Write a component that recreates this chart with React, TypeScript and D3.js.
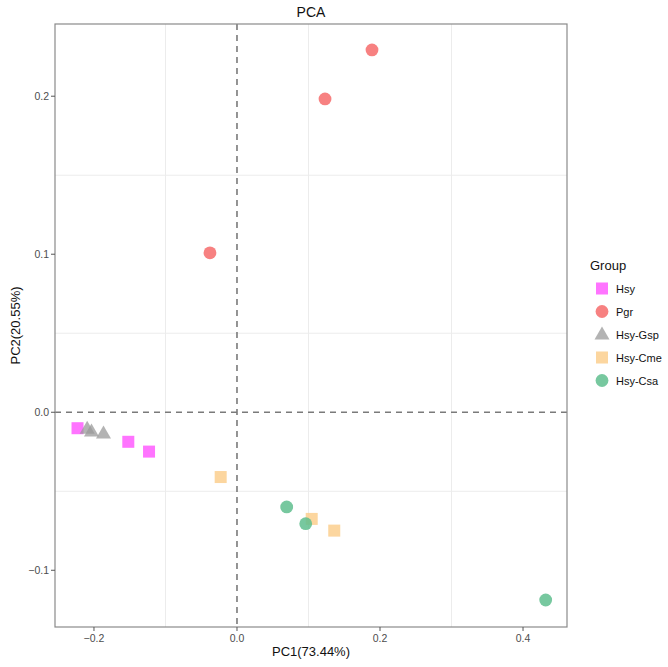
import React from "react";
import * as d3 from "d3";

const groups = ["Hsy", "Pgr", "Hsy-Gsp", "Hsy-Cme", "Hsy-Csa"];
const groupColors = ["#FF5CFF", "#F66B6B", "#9A9A9A", "#FBCF8E", "#5FBE8E"];
const groupShapes = ["square", "circle", "triangle", "square", "circle"];

const hsyPC1 = [-0.223, -0.152, -0.123];
const hsyPC2 = [-0.0101, -0.0187, -0.0249];
const pgrPC1 = [0.1888, 0.1231, -0.0378];
const pgrPC2 = [0.2293, 0.1983, 0.1009];
const gspPC1 = [-0.2095, -0.2035, -0.1867];
const gspPC2 = [-0.0105, -0.0122, -0.0135];
const cmePC1 = [-0.0228, 0.1045, 0.136];
const cmePC2 = [-0.041, -0.0675, -0.0749];
const csaPC1 = [0.0695, 0.0961, 0.4317];
const csaPC2 = [-0.0599, -0.0705, -0.1188];

const xTicks = [-0.2, 0.0, 0.2, 0.4];
const yTicks = [-0.1, 0.0, 0.1, 0.2];
const xMinor = [-0.1, 0.1, 0.3];
const yMinor = [-0.05, 0.05, 0.15];

const xLabel = "PC1(73.44%)";
const yLabel = "PC2(20.55%)";
const title = "PCA";
const legendTitle = "Group";

const series = [
  { x: hsyPC1, y: hsyPC2 },
  { x: pgrPC1, y: pgrPC2 },
  { x: gspPC1, y: gspPC2 },
  { x: cmePC1, y: cmePC2 },
  { x: csaPC1, y: csaPC2 },
];

function Marker({ shape, cx, cy, color }: { shape: string; cx: number; cy: number; color: string }) {
  const op = 0.85;
  if (shape === "square") {
    const s = 12;
    return <rect x={cx - s / 2} y={cy - s / 2} width={s} height={s} fill={color} fillOpacity={op} />;
  }
  if (shape === "circle") {
    return <circle cx={cx} cy={cy} r={6.4} fill={color} fillOpacity={op} />;
  }
  const w = 15, h = 13;
  const pts = `${cx},${cy - h * 0.62} ${cx - w / 2},${cy + h * 0.38} ${cx + w / 2},${cy + h * 0.38}`;
  return <polygon points={pts} fill={color} fillOpacity={0.75} />;
}

export default function App() {
  const W = 668, H = 667;
  const left = 55, right = 567, top = 24, bottom = 627;
  const x = d3.scaleLinear().domain([-0.2545, 0.4615]).range([left, right]);
  const y = d3.scaleLinear().domain([-0.1359, 0.2457]).range([bottom, top]);
  const tickColor = "#4d4d4d";
  const font = "Liberation Sans, Arial, sans-serif";

  return (
    <svg width={W} height={H} style={{ position: "absolute", left: 0, top: 0 }} fontFamily={font}>
      <rect x={0} y={0} width={W} height={H} fill="#fff" />
      {xMinor.map((v) => (
        <line key={"xm" + v} x1={x(v)} x2={x(v)} y1={top} y2={bottom} stroke="#ececec" strokeWidth={1} />
      ))}
      {yMinor.map((v) => (
        <line key={"ym" + v} x1={left} x2={right} y1={y(v)} y2={y(v)} stroke="#ececec" strokeWidth={1} />
      ))}
      <line x1={x(0)} x2={x(0)} y1={top} y2={bottom} stroke="#7a7a7a" strokeWidth={1.6} strokeDasharray="6,5" />
      <line x1={left} x2={right} y1={y(0)} y2={y(0)} stroke="#7a7a7a" strokeWidth={1.6} strokeDasharray="6,5" />
      {series.map((s, gi) =>
        s.x.map((xv, i) => (
          <Marker key={gi + "-" + i} shape={groupShapes[gi]} cx={x(xv)} cy={y(s.y[i])} color={groupColors[gi]} />
        ))
      )}
      <rect x={left} y={top} width={right - left} height={bottom - top} fill="none" stroke="#8a8a8a" strokeWidth={1.2} />
      {xTicks.map((v) => (
        <g key={"xt" + v}>
          <line x1={x(v)} x2={x(v)} y1={bottom} y2={bottom + 4} stroke="#555" />
          <text x={x(v)} y={bottom + 15} textAnchor="middle" fontSize={10.5} fill={tickColor}>
            {d3.format(".1f")(v).replace("-", "\u2212")}
          </text>
        </g>
      ))}
      {yTicks.map((v) => (
        <g key={"yt" + v}>
          <line x1={left - 4} x2={left} y1={y(v)} y2={y(v)} stroke="#555" />
          <text x={left - 6} y={y(v) + 4} textAnchor="end" fontSize={10.5} fill={tickColor}>
            {d3.format(".1f")(v).replace("-", "\u2212")}
          </text>
        </g>
      ))}
      <text x={(left + right) / 2} y={17} textAnchor="middle" fontSize={14} fill="#111">{title}</text>
      <text x={(left + right) / 2} y={656} textAnchor="middle" fontSize={13} fill="#111">{xLabel}</text>
      <text transform={`translate(20,${(top + bottom) / 2}) rotate(-90)`} textAnchor="middle" fontSize={13} fill="#111">{yLabel}</text>
      <text x={590} y={270} fontSize={13} fill="#111">{legendTitle}</text>
      {groups.map((g, i) => {
        const cy = 288.5 + i * 23;
        return (
          <g key={g}>
            <Marker shape={groupShapes[i]} cx={602} cy={cy} color={groupColors[i]} />
            <text x={616} y={cy + 4} fontSize={11} fill="#111">{g}</text>
          </g>
        );
      })}
    </svg>
  );
}
